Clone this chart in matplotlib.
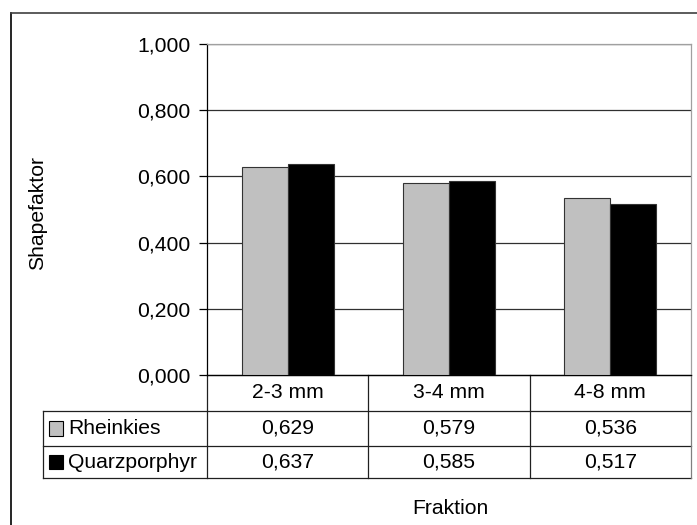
import matplotlib
matplotlib.use("Agg")
import matplotlib.pyplot as plt
from matplotlib.transforms import blended_transform_factory
from matplotlib.patches import Rectangle

categories = ["2-3 mm", "3-4 mm", "4-8 mm"]
series_names = ["Rheinkies", "Quarzporphyr"]
rheinkies = [0.629, 0.579, 0.536]
quarzporphyr = [0.637, 0.585, 0.517]
series_values = [rheinkies, quarzporphyr]
series_colors = ["#c0c0c0", "#000000"]
yticks = [0.0, 0.2, 0.4, 0.6, 0.8, 1.0]
ytick_labels = ["0,000", "0,200", "0,400", "0,600", "0,800", "1,000"]

def fmt(v):
    return f"{v:.3f}".replace(".", ",")

plt.rcParams['font.family'] = ['Liberation Sans', 'DejaVu Sans']
FS = 15.2
W, H = 697, 525
fig = plt.figure(figsize=(W/100, H/100), dpi=100)

L, R, T, B = 207, 691, 44, 375
ax = fig.add_axes([L/W, 1-B/H, (R-L)/W, (B-T)/H])

n = len(categories)
bw = 0.286
for i, (vals, col) in enumerate(zip(series_values, series_colors)):
    xs = [k + (i - 0.5) * bw for k in range(n)]
    ax.bar(xs, vals, width=bw, color=col, edgecolor="#333333", linewidth=0.8, zorder=3)

ax.set_xlim(-0.5, n - 0.5)
ax.set_ylim(0, 1.0)
ax.set_yticks(yticks)
ax.set_yticklabels(ytick_labels, fontsize=FS)
ax.set_xticks([])
for y in yticks[1:]:
    ax.axhline(y, color="#303030", linewidth=0.9, zorder=1)
ax.spines['top'].set_color("#a0a0a0")
ax.spines['right'].set_color("#a0a0a0")
ax.spines['left'].set_color("#000000")
ax.spines['bottom'].set_color("#000000")
for s in ax.spines.values():
    s.set_linewidth(0.9)
ax.tick_params(axis='y', direction='out', length=6, width=0.9, pad=6, colors="#000000")

def fx(px):
    return (px - L) / (R - L)
def fy(py):
    return (B - py) / (B - T)

row_edges = [375, 411, 446, 478]
tbl_left = 43
lc = "#202020"
lw = 0.9
ta = ax.transAxes
ax.plot([0, 1], [fy(row_edges[0])]*2, transform=ta, clip_on=False, color=lc, lw=lw)
for ry in row_edges[1:]:
    ax.plot([fx(tbl_left), 1], [fy(ry)]*2, transform=ta, clip_on=False, color=lc, lw=lw)
for k in range(n + 1):
    xf = k / n
    ax.plot([xf, xf], [fy(row_edges[0]), fy(row_edges[-1])], transform=ta, clip_on=False,
            color=("#808080" if k == n else lc), lw=lw)
ax.plot([fx(tbl_left)]*2, [fy(row_edges[1]), fy(row_edges[-1])], transform=ta, clip_on=False, color=lc, lw=lw)

bt = blended_transform_factory(ax.transData, ta)
for k, c in enumerate(categories):
    ax.text(k, fy((row_edges[0] + row_edges[1]) / 2), c, transform=bt, ha='center', va='center', fontsize=FS)
for i, (name, vals, col) in enumerate(zip(series_names, series_values, series_colors)):
    yc = fy((row_edges[i + 1] + row_edges[i + 2]) / 2)
    for k, v in enumerate(vals):
        ax.text(k, yc, fmt(v), transform=bt, ha='center', va='center', fontsize=FS)
    kx0 = fx(49); kw = fx(63) - fx(49)
    kh = (fy(0) - fy(14))
    ax.add_patch(Rectangle((kx0, yc - kh/2), kw, kh, transform=ta, clip_on=False,
                           facecolor=col, edgecolor="#000000", linewidth=0.8))
    ax.text(fx(68), yc, name, transform=ta, ha='left', va='center', fontsize=FS)

fig.text(38/W, 1 - 213/H, "Shapefaktor", rotation=90, ha='center', va='center', fontsize=FS)
fig.text(450/W, 1 - 508/H, "Fraktion", ha='center', va='center', fontsize=FS)

fig.add_artist(plt.Line2D([11/W, 11/W], [0, 1 - 13/H], transform=fig.transFigure, color="#000000", lw=1.2))
fig.add_artist(plt.Line2D([11/W, 1], [1 - 13/H, 1 - 13/H], transform=fig.transFigure, color="#404040", lw=1.2))

fig.savefig("out.png", dpi=100)
